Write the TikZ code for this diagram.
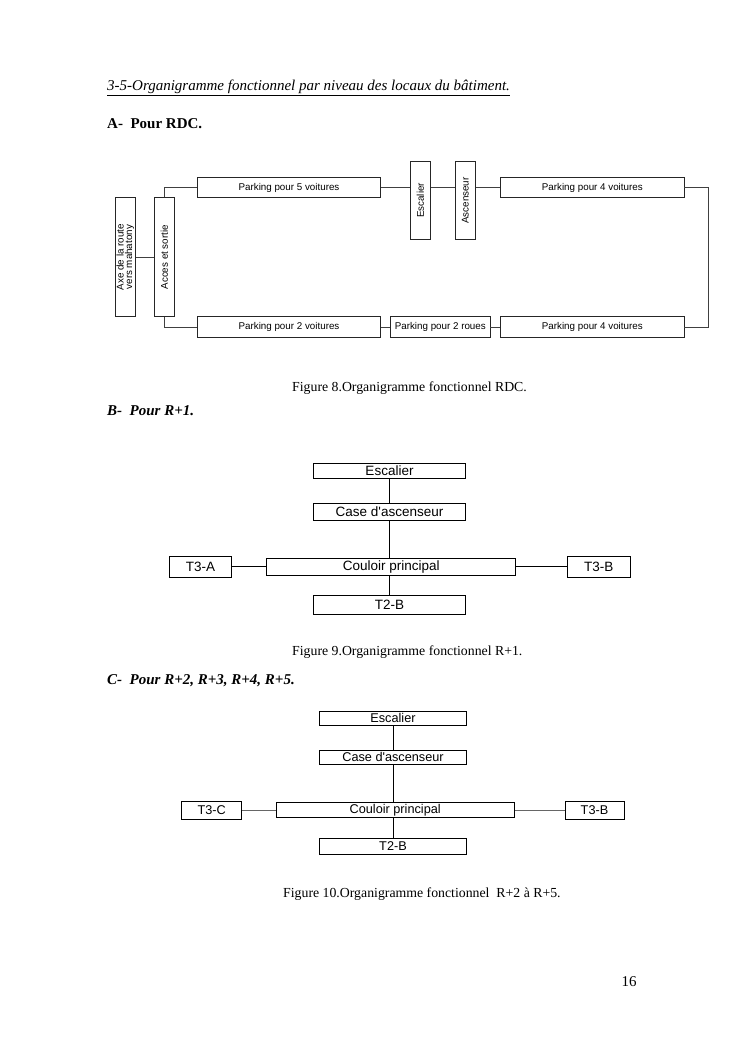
\documentclass[tikz,border=0pt]{standalone}
\usepackage{fontspec}
\setmainfont{Liberation Serif}
\newfontfamily\arialf{Liberation Sans}
\begin{document}
\begin{tikzpicture}[x=1pt,y=-1pt,
  bx/.style={draw=black!85, line width=0.6pt, inner sep=0pt, rectangle, font=\arialf\fontsize{9.8}{10}\selectfont},
  bxb/.style={draw=black, line width=0.8pt, inner sep=0pt, rectangle, font=\arialf\fontsize{13.5}{13.5}\selectfont},
  bxc/.style={draw=black, line width=0.8pt, inner sep=0pt, rectangle, font=\arialf\fontsize{12.7}{12.7}\selectfont},
  ln/.style={draw=black!75, line width=0.6pt},
  lnb/.style={draw=black, line width=0.8pt},
  lng/.style={draw=black!60, line width=0.8pt},
  txt/.style={anchor=base west, inner sep=0pt, font=\fontsize{15}{15}\selectfont},
  figcap/.style={anchor=base west, inner sep=0pt, font=\fontsize{13.8}{13.8}\selectfont},
  vt/.style={rotate=90, inner sep=0pt, align=center, font=\arialf\fontsize{9.8}{8.6}\selectfont}]
\useasboundingbox[fill=white] (0,0) rectangle (745,1053);

% headings and captions
\node[txt, font=\itshape\fontsize{15}{15}\selectfont] (h1) at (107,90.5) {\underline{3-5-Organigramme fonctionnel par niveau des locaux du bâtiment.}};
\node[txt, font=\bfseries\fontsize{15}{15}\selectfont] (hA) at (107,128) {A-\ \ Pour RDC.};
\node[figcap] (c8) at (292,391) {Figure 8.Organigramme fonctionnel RDC.};
\node[txt, font=\bfseries\itshape\fontsize{15}{15}\selectfont] (hB) at (107,415) {B-\ \ Pour R+1.};
\node[figcap] (c9) at (292,655.5) {Figure 9.Organigramme fonctionnel R+1.};
\node[txt, font=\bfseries\itshape\fontsize{15}{15}\selectfont] (hC) at (107,684) {C-\ \ Pour R+2, R+3, R+4, R+5.};
\node[figcap] (c10) at (283,897.5) {Figure 10.Organigramme fonctionnel\ \ R+2 à R+5.};
\node[txt] (pg) at (621.5,986.5) {16};

% ---------------- RDC ----------------
\node[bx, minimum width=20, minimum height=119] (axe) at (125.3,257.2) {};
\node[vt] (axet) at (axe) {Axe de la route\\vers mahatony};
\node[bx, minimum width=20, minimum height=119] (acc) at (164.3,257.2) {};
\node[vt] (acct) at (acc) {Acces et sortie};
\node[bx, minimum width=183.4, minimum height=20.4] (p5) at (289,187.5) {Parking pour 5 voitures};
\node[bx, minimum width=20, minimum height=77.6] (esc) at (420.3,200.5) {};
\node[vt] (esct) at (esc) {Escalier};
\node[bx, minimum width=20, minimum height=77.6] (asc) at (465.3,200.5) {};
\node[vt] (asct) at (asc) {Ascenseur};
\node[bx, minimum width=183.3, minimum height=20.4] (p4a) at (592.3,187.5) {Parking pour 4 voitures};
\node[bx, minimum width=183.4, minimum height=20.6] (p2) at (289,327) {Parking pour 2 voitures};
\node[bx, minimum width=99.3, minimum height=20.6] (p2r) at (440.3,327) {Parking pour 2 roues};
\node[bx, minimum width=183.3, minimum height=20.6] (p4b) at (592.3,327) {Parking pour 4 voitures};
\coordinate (rc) at (708.3,187.5);

\draw[ln] (axe.east) -- (acc.west);
\draw[ln] (acc.north) |- (p5.west);
\draw[ln] (acc.south) |- (p2.west);
\draw[ln] (p5.east) -- (p5.east -| esc.west);
\draw[ln] (esc.east |- p5.east) -- (asc.west |- p5.east);
\draw[ln] (asc.east |- p4a.west) -- (p4a.west);
\draw[ln] (p4a.east) -- (rc) |- (p4b.east);
\draw[ln] (p2.east) -- (p2r.west);
\draw[ln] (p2r.east) -- (p4b.west);

% ---------------- R+1 ----------------
\node[bxb, minimum width=152.4, minimum height=15] (e1) at (389.5,470.8) {Escalier};
\node[bxb, minimum width=152.4, minimum height=16.7] (k1) at (389.5,511.7) {Case d'ascenseur};
\node[bxb, minimum width=249, minimum height=16.7] (co1) at (391.2,566.7) {Couloir principal};
\node[bxb, minimum width=62.4, minimum height=20.6] (ta1) at (200.5,567) {T3-A};
\node[bxb, minimum width=62.7, minimum height=20.6] (tb1) at (598.7,567) {T3-B};
\node[bxb, minimum width=152.4, minimum height=19] (td1) at (389.5,604.5) {T2-B};

\draw[lnb] (e1.south) -- (k1.north);
\draw[lnb] (k1.south) -- (k1.south |- co1.north);
\draw[lnb] (td1.north |- co1.south) -- (td1.north);
\draw[lnb] (ta1.east |- co1.west) -- (co1.west);
\draw[lnb] (co1.east) -- (tb1.west |- co1.east);

% ---------------- R+2 ----------------
\node[bxc, minimum width=147.4, minimum height=14] (e2) at (393,718) {Escalier};
\node[bxc, minimum width=147.4, minimum height=14] (k2) at (393,757) {Case d'ascenseur};
\node[bxc, minimum width=238.3, minimum height=15.4] (co2) at (395.2,810) {Couloir principal};
\node[bxc, minimum width=60, minimum height=17.6] (tc2) at (211.7,810.5) {T3-C};
\node[bxc, minimum width=59, minimum height=17.6] (tb2) at (594.5,810.5) {T3-B};
\node[bxc, minimum width=147.4, minimum height=15.7] (td2) at (393,846.2) {T2-B};

\draw[lnb] (e2.south) -- (k2.north);
\draw[lnb] (k2.south) -- (k2.south |- co2.north);
\draw[lnb] (td2.north |- co2.south) -- (td2.north);
\draw[lng] (tc2.east |- co2.west) -- (co2.west);
\draw[lng] (co2.east) -- (tb2.west |- co2.east);
\end{tikzpicture}
\end{document}
